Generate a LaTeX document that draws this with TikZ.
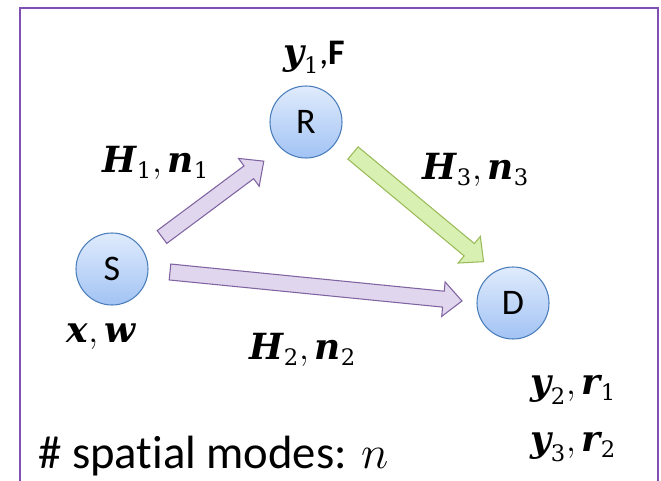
\RequirePackage{fix-cm}
\documentclass[tikz,border=0pt]{standalone}
\usepackage{amsmath}
\usepackage{fontspec}
\setmainfont{Carlito}[Ligatures=NoCommon]
\newfontfamily\symfont{DejaVu Serif}
\usepackage{tikz}
\usetikzlibrary{calc,positioning}

\definecolor{nodeedge}{RGB}{74,126,187}
\definecolor{nodetop}{RGB}{224,235,252}
\definecolor{nodebot}{RGB}{162,195,244}
\definecolor{purpedge}{RGB}{128,100,162}
\definecolor{purpfill}{RGB}{224,214,238}
\definecolor{grnedge}{RGB}{155,187,89}
\definecolor{grnfill}{RGB}{216,240,178}
\definecolor{frameclr}{RGB}{128,80,180}

% bold italic symbol, with its index
\newcommand{\vb}[1]{\text{\symfont\bfseries\itshape #1}}
\newcommand{\lo}[1]{_{\text{\fontsize{17}{17}\selectfont\symfont #1}}}
% block arrow from #2 to #3
\newcommand{\fatarrow}[3]{%
  \draw[#1] let \p1=($(#3)-(#2)$), \n1={veclen(\x1,\y1)}, \n2={atan2(\y1,\x1)} in
    [shift={(#2)},rotate=\n2]
    (0pt,-6pt) -- (\n1-14pt,-6pt) -- (\n1-14pt,-13pt) -- (\n1,0pt)
    -- (\n1-14pt,13pt) -- (\n1-14pt,6pt) -- (0pt,6pt) -- cycle;}

\begin{document}
\begin{tikzpicture}[x=0.75pt,y=-0.75pt,
  term/.style={draw=nodeedge,line width=0.8pt,circle,minimum size=54pt,inner sep=0pt,
    top color=nodetop,bottom color=nodebot,font=\fontsize{27}{30}\selectfont},
  lbl/.style={font=\fontsize{27}{30}\selectfont,inner sep=0pt},
  purp/.style={draw=purpedge,fill=purpfill,line width=0.8pt,line join=miter},
  grn/.style={draw=grnedge,fill=grnfill,line width=0.8pt,line join=miter}]
\useasboundingbox (0,0) rectangle (661,481);
\clip (0,0) rectangle (661,481);
\draw[frameclr,line width=1.7pt] (20,8) rectangle (658,520);

\node[term] (S) at (112,269) {S};
\node[term] (R) at (306,122) {R};
\node[term] (D) at (513,303) {D};

\coordinate (sr0) at (162,237);
\coordinate (sr1) at (264,161);
\coordinate (sd0) at (170,272);
\coordinate (sd1) at (462,301);
\coordinate (rd0) at (353,153);
\coordinate (rd1) at (484,262);
\fatarrow{purp}{sr0}{sr1}
\fatarrow{purp}{sd0}{sd1}
\fatarrow{grn}{rd0}{rd1}

\node[lbl] (yF) at (314,57) {$\vb{y}\lo{1}$,\textbf{F}};
\node[lbl] (Hn1) at (156,163) {$\vb{H}\lo{1}, \vb{n}\lo{1}$};
\node[lbl] (Hn3) at (476,170) {$\vb{H}\lo{3}, \vb{n}\lo{3}$};
\node[lbl] (Hn2) at (303,350) {$\vb{H}\lo{2}, \vb{n}\lo{2}$};
\node[lbl] (xw) at (101,337) {$\vb{x}, \vb{w}$};
\node[lbl] (yr1) at (573,390) {$\vb{y}\lo{2}, \vb{r}\lo{1}$};
\node[lbl] (yr2) at (573,447) {$\vb{y}\lo{3}, \vb{r}\lo{2}$};
\node[anchor=west,inner sep=0pt,font=\fontsize{35}{38}\selectfont] (modes) at (38,456)
  {\# spatial modes: $n$};
\end{tikzpicture}
\end{document}
